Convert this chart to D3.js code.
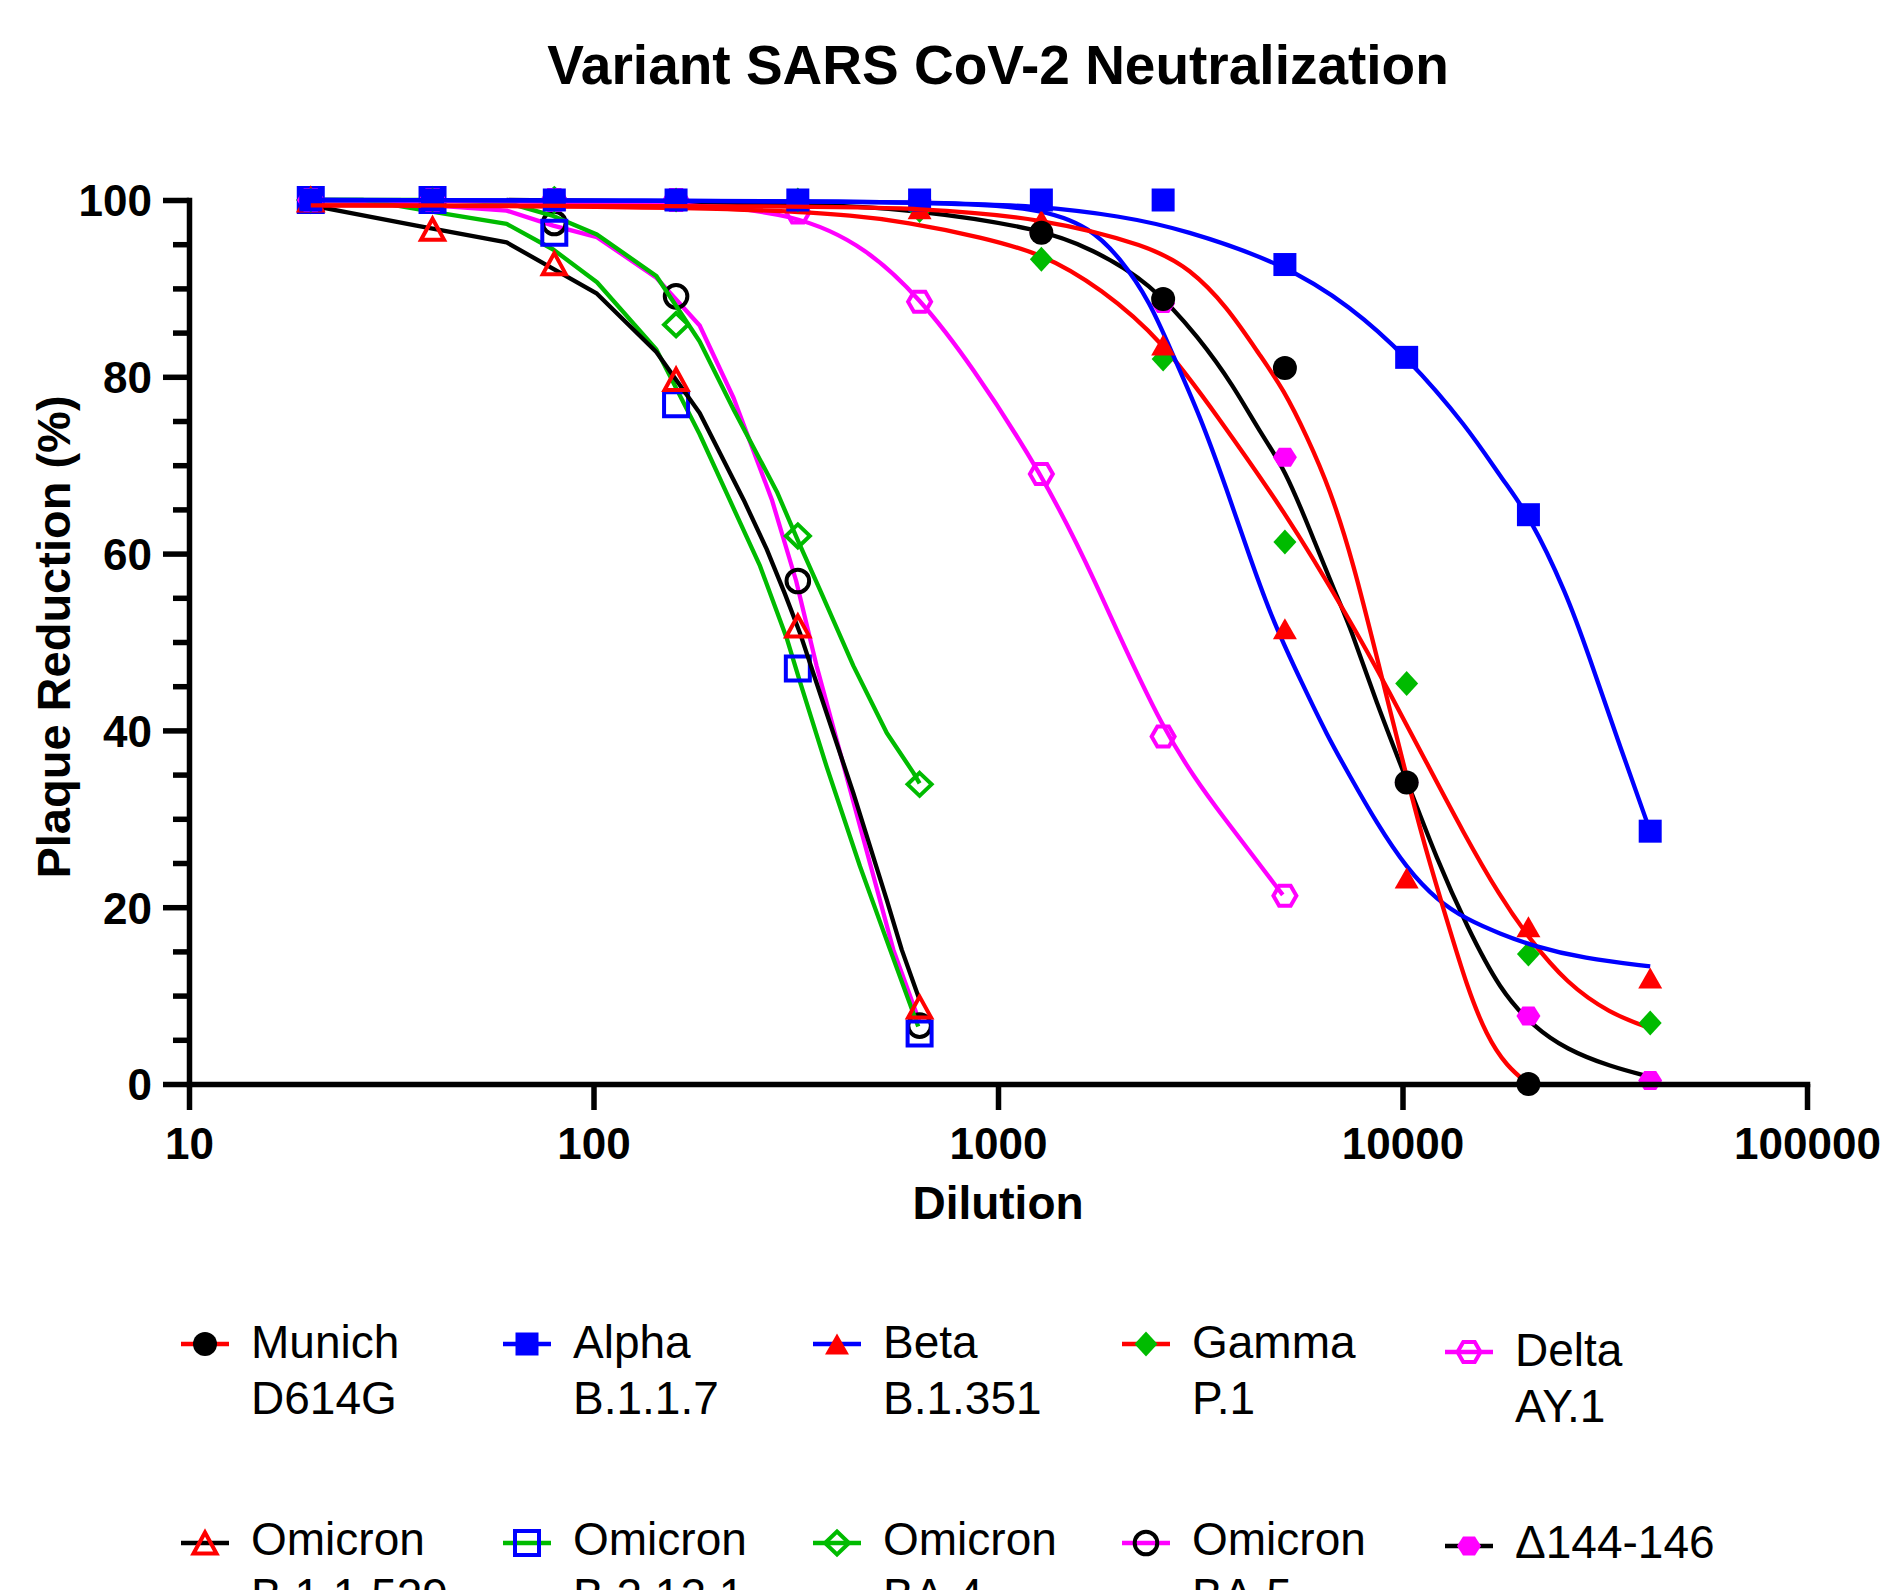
<!DOCTYPE html>
<html>
<head>
<meta charset="utf-8">
<script src="https://cdn.jsdelivr.net/npm/d3@7"></script>
<style>
  body { margin: 0; background: #fff; }
  svg text { font-family: "Liberation Sans", Arial, sans-serif; }
</style>
</head>
<body>
<div id="chart"></div>
<script>
(function () {
   // dilution steps of the assay
   const dilutions = [20, 40, 80, 160, 320, 640, 1280, 2560, 5120, 10240, 20480, 40960];

   // measured plaque reduction (%) per series, null where no point
   const munichPts = [null, null, null, null, null, null, 96.3, 88.8, 81, 34.1, 0, null];
   const alphaPts = [100, 100, 100, 100, 100, 100, 100, 100, 92.7, 82.2, 64.4, 28.6];
   const betaPts = [100, 100, 100, 100, 100, 99, 97.7, 83.6, 51.5, 23.3, 17.8, 12];
   const gammaPts = [100, 100, 100, 100, 100, 98.8, 93.3, 82, 61.3, 45.3, 14.7, 6.9];
   const deltaPts = [100, 100, 100, 100, 98.6, 88.5, 69, 39.3, 21.3, null, null, null];
   const b11529Pts = [100, 96.7, 92.8, 79.7, 51.8, 8.7, null, null, null, null, null, null];
   const b2121Pts = [100, 100, 96.3, 76.9, 47, 5.7, null, null, null, null, null, null];
   const ba4Pts = [100, 100, 100, 85.9, 62, 33.9, null, null, null, null, null, null];
   const ba5Pts = [100, 100, 97.4, 89.1, 56.9, 6.6, null, null, null, null, null, null];
   const d144Pts = [null, null, 100, 100, 100, 100, 96.3, 88.3, 70.9, 34.1, 7.7, 0.4];

   // fitted curves: [dilution, %]
   const munichFit = [[20, 99.4], [320, 99.3], [640, 99.1], [1280, 98], [2376, 94.8], [2985, 92.2], [3675, 88], [4446, 82.4], [5079, 78.6], [5800, 73.3], [6620, 67.3], [7555, 59], [8630, 48.4], [10330, 34], [11480, 26.1], [12860, 18.6], [14430, 11], [16150, 5.4], [18100, 2], [20480, 0]];
   const alphaFit = [[20, 100], [640, 99.9], [1280, 99.3], [2000, 98.2], [2871, 96.7], [5128, 92.7], [7418, 88], [10240, 82.3], [14430, 74.4], [17750, 68.2], [20480, 64.5], [25460, 55.5], [28910, 48.4], [34000, 39], [40960, 28.6]];
   const betaFit = [[20, 100], [640, 99.9], [1280, 99.2], [1700, 96.8], [2000, 93.5], [2376, 88.5], [2710, 82.4], [3157, 75.6], [3675, 67.3], [4198, 59.5], [4795, 52.2], [5690, 45], [6500, 39.5], [7418, 34.8], [8635, 29.5], [10240, 24.4], [12160, 20.8], [14430, 18.6], [17420, 17], [21050, 15.6], [27980, 14.2], [40960, 13.3]];
   const gammaFit = [[20, 99.4], [320, 99.2], [640, 97.3], [900, 95.8], [1280, 94], [1800, 90], [2560, 84], [3476, 75.6], [5079, 65], [7418, 52.5], [9320, 44.2], [11480, 36.3], [14150, 28.4], [17420, 21.2], [20680, 16.3], [25460, 11.4], [32500, 8], [40960, 6.3]];
   const deltaFit = [[20, 100], [160, 99.8], [320, 98.5], [476, 94.5], [640, 88.9], [855, 81.5], [1284, 69], [1698, 58.1], [2560, 39.4], [3656, 29.8], [5058, 21.4]];
   const b11529Fit = [[20, 99.4], [36.5, 97.1], [61, 95.2], [102, 89.4], [143, 82.8], [183, 75.9], [235, 66.1], [268, 60.5], [297, 55.5], [324, 51], [363, 44.2], [439, 32.9], [531, 20.8], [578, 15.2], [640, 9.5]];
   const b2121Fit = [[20, 100], [27, 100], [40.9, 98.6], [61, 97.3], [79.5, 94.4], [102, 90.7], [143, 83.1], [183, 73.5], [217, 66.1], [258, 58.6], [301, 50.3], [324, 45.5], [377, 35.9], [456, 24.6], [541, 15.2], [635, 6.5]];
   const ba4Fit = [[20, 100], [40, 100], [61, 99.7], [79.5, 98.2], [102, 96.1], [143, 91.4], [183, 84], [222, 76.3], [284, 67], [320, 61.5], [363, 55.9], [439, 47.3], [531, 39.7], [618, 35.2], [640, 34]];
   const ba5Fit = [[20, 100], [40, 99.4], [61, 98.8], [79.5, 97.1], [102, 95.8], [143, 91.2], [183, 85.8], [222, 77.6], [276, 66.1], [317, 56.9], [356, 47.3], [416, 35.9], [485, 24.6], [551, 15.2], [640, 7]];
   const d144Fit = [[61, 100], [320, 99.7], [638, 98.9], [1284, 96.7], [1698, 94.5], [2376, 90.7], [3157, 84.3], [3818, 79], [4446, 73.7], [5128, 69.5], [5900, 62.7], [6870, 55.2], [7418, 51.8], [8635, 43], [10240, 34.4], [12160, 25.4], [14430, 17.8], [17420, 10.6], [21050, 6.5], [25460, 3.9], [32500, 2], [40960, 0.8]];

   // legend labels (two lines each)
   const seriesNames = [['Munich', 'D614G'], ['Alpha', 'B.1.1.7'], ['Beta', 'B.1.351'], ['Gamma', 'P.1'], ['Delta', 'AY.1'],
      ['Omicron', 'B.1.1.529'], ['Omicron', 'B.2.12.1'], ['Omicron', 'BA.4'], ['Omicron', 'BA.5'], ['\u0394144-146']];

   // axis ticks
   const xTicks = [10, 100, 1000, 10000, 100000];
   const yTicks = [0, 20, 40, 60, 80, 100];
   const yMinor = [5, 10, 15, 25, 30, 35, 45, 50, 55, 65, 70, 75, 85, 90, 95];

   const RED = '#ff0000', BLUE = '#0000ff', GREEN = '#00bb00', MAG = '#ff00ff', BLK = '#000000';

   // series table (style + data), order = legend order
   const series = [
      { pts: munichPts, fit: munichFit, line: RED, mark: BLK, shape: 'circle', filled: true, curve: 'smooth' },
      { pts: alphaPts, fit: alphaFit, line: BLUE, mark: BLUE, shape: 'square', filled: true, curve: 'smooth' },
      { pts: betaPts, fit: betaFit, line: BLUE, mark: RED, shape: 'triangle', filled: true, curve: 'smooth' },
      { pts: gammaPts, fit: gammaFit, line: RED, mark: GREEN, shape: 'diamond', filled: true, curve: 'smooth' },
      { pts: deltaPts, fit: deltaFit, line: MAG, mark: MAG, shape: 'hexagon', filled: false, curve: 'smooth' },
      { pts: b11529Pts, fit: b11529Fit, line: BLK, mark: RED, shape: 'triangle', filled: false, curve: 'linear' },
      { pts: b2121Pts, fit: b2121Fit, line: GREEN, mark: BLUE, shape: 'square', filled: false, curve: 'linear' },
      { pts: ba4Pts, fit: ba4Fit, line: GREEN, mark: GREEN, shape: 'diamond', filled: false, curve: 'linear' },
      { pts: ba5Pts, fit: ba5Fit, line: MAG, mark: BLK, shape: 'circle', filled: false, curve: 'linear' },
      { pts: d144Pts, fit: d144Fit, line: BLK, mark: MAG, shape: 'hexagon', filled: true, curve: 'smooth' }
   ];
   series.forEach((s, i) => { s.name = seriesNames[i]; });

   const width = 1890, height = 1590;

   const svg = d3.select('#chart')
      .append('svg')
      .attr('width', width)
      .attr('height', height)
      .style('display', 'block');

   const x = d3.scaleLog().domain([10, 100000]).range([189, 1807]);
   const y = d3.scaleLinear().domain([0, 100]).range([1084, 200]);

   // marker outline centred on 0,0
   function markerPath(shape, filled) {
      const p = d3.path();
      if (shape === 'circle') {
         const r = filled ? 12 : 11.3;
         p.moveTo(r, 0);
         p.arc(0, 0, r, 0, 2 * Math.PI);
      } else if (shape === 'square') {
         const h = filled ? 11.5 : 12;
         p.rect(-h, -h, 2 * h, 2 * h);
      } else if (shape === 'triangle') {
         const w = filled ? 12 : 11.5, t = 10.5;
         p.moveTo(0, -t); p.lineTo(w, t); p.lineTo(-w, t); p.closePath();
      } else if (shape === 'diamond') {
         const w = filled ? 11.5 : 12, h = filled ? 12.5 : 11.5;
         p.moveTo(0, -h); p.lineTo(w, 0); p.lineTo(0, h); p.lineTo(-w, 0); p.closePath();
      } else if (shape === 'hexagon') {
         const w = filled ? 12 : 11.5, h = filled ? 9.5 : 10;
         p.moveTo(-w, 0); p.lineTo(-w / 2, -h); p.lineTo(w / 2, -h); p.lineTo(w, 0);
         p.lineTo(w / 2, h); p.lineTo(-w / 2, h); p.closePath();
      }
      return p.toString();
   }

   function drawMarker(g, s, cx, cy) {
      g.append('path')
         .attr('d', markerPath(s.shape, s.filled))
         .attr('transform', `translate(${cx},${cy})`)
         .attr('fill', s.filled ? s.mark : 'none')
         .attr('stroke', s.filled ? 'none' : s.mark)
         .attr('stroke-width', s.filled ? 0 : 4)
         .attr('stroke-linejoin', 'miter');
   }

   // title
   svg.append('text')
      .attr('x', 998)
      .attr('y', 84)
      .attr('text-anchor', 'middle')
      .style('font-size', '55px')
      .style('font-weight', 'bold')
      .text('Variant SARS CoV-2 Neutralization');

   // data: draw last series first so Munich ends up on top
   const plot = svg.append('g');
   series.slice().reverse().forEach(s => {
      const g = plot.append('g');
      const line = d3.line()
         .x(d => x(d[0]))
         .y(d => y(d[1]))
         .curve(s.curve === 'linear' ? d3.curveLinear : d3.curveBasis);
      g.append('path')
         .datum(s.fit)
         .attr('d', line)
         .attr('fill', 'none')
         .attr('stroke', s.line)
         .attr('stroke-width', 4.3)
         .attr('stroke-linejoin', 'round');
      s.pts.forEach((v, i) => {
         if (v === null) return;
         drawMarker(g, s, x(dilutions[i]), y(v));
      });
   });

   // axes
   const xAxis = svg.append('g')
      .attr('transform', 'translate(0,1084)')
      .call(d3.axisBottom(x).tickValues(xTicks).tickFormat(d3.format('d')).tickSize(26).tickSizeOuter(0));

   const yMinorAxis = svg.append('g')
      .attr('transform', 'translate(189,0)')
      .call(d3.axisLeft(y).tickValues(yMinor).tickFormat('').tickSize(16).tickSizeOuter(0));
   yMinorAxis.select('.domain').remove();

   const yAxis = svg.append('g')
      .attr('transform', 'translate(189,0)')
      .call(d3.axisLeft(y).tickValues(yTicks).tickSize(26).tickSizeOuter(0).tickPadding(11));

   [xAxis, yAxis, yMinorAxis].forEach(a => {
      a.selectAll('.domain').attr('stroke', '#000').attr('stroke-width', 5.5).attr('stroke-linecap', 'square');
      a.selectAll('.tick line').attr('stroke', '#000').attr('stroke-width', 5.5);
      a.selectAll('.tick text')
         .attr('fill', '#000')
         .style('font-size', '44px')
         .style('font-weight', 'bold')
         .style('font-family', '"Liberation Sans", Arial, sans-serif');
   });
   xAxis.selectAll('.tick text').attr('y', 75).attr('dy', null);
   yAxis.selectAll('.tick text').attr('dy', '0.36em');

   // axis titles
   svg.append('text')
      .attr('x', 998)
      .attr('y', 1219)
      .attr('text-anchor', 'middle')
      .style('font-size', '46px')
      .style('font-weight', 'bold')
      .text('Dilution');

   svg.append('text')
      .attr('transform', 'translate(70,637) rotate(-90)')
      .attr('text-anchor', 'middle')
      .style('font-size', '47px')
      .style('font-weight', 'bold')
      .text('Plaque Reduction (%)');

   // legend: 2 rows x 5 columns
   const legendX = [205, 527, 837, 1146, 1469];
   const legendRowY = [1358, 1555];
   const legendMarkUp = [14, 12];
   const lastColShift = [8, 3];

   const legend = svg.append('g');
   series.forEach((s, i) => {
      const row = Math.floor(i / 5), col = i % 5;
      const base = legendRowY[row] + (col === 4 ? lastColShift[row] : 0);
      const mx = legendX[col];
      const my = base - legendMarkUp[row];
      const g = legend.append('g');
      g.append('line')
         .attr('x1', mx - 24).attr('x2', mx + 24)
         .attr('y1', my).attr('y2', my)
         .attr('stroke', s.line)
         .attr('stroke-width', 4.5);
      drawMarker(g, s, mx, my);
      const t = g.append('text')
         .attr('x', mx + 46)
         .attr('y', base)
         .style('font-size', '46px');
      s.name.forEach((ln, k) => {
         t.append('tspan').attr('x', mx + 46).attr('dy', k === 0 ? 0 : 56).text(ln);
      });
   });
})();
</script>
</body>
</html>
